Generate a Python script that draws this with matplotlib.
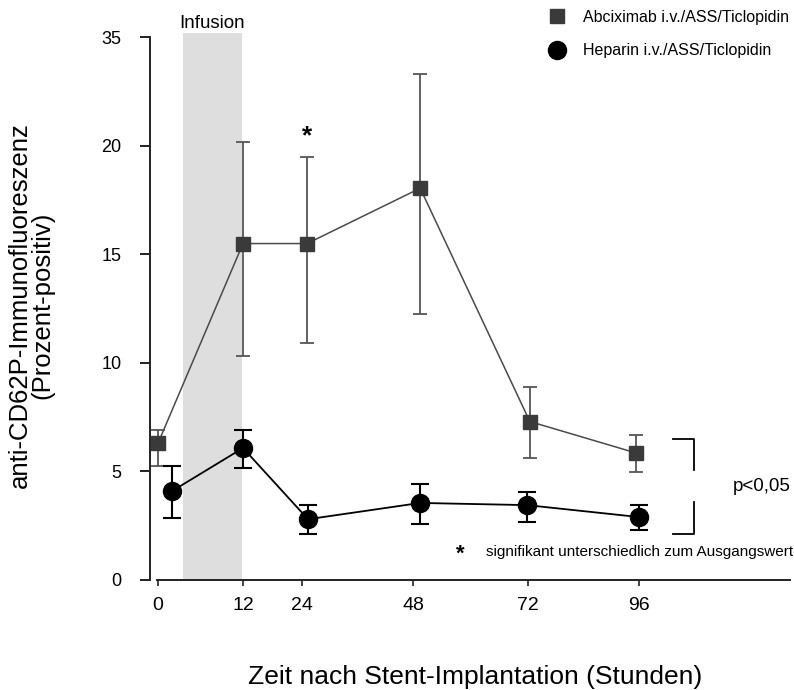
import numpy as np
import matplotlib
matplotlib.use("Agg")
import matplotlib.pyplot as plt
from matplotlib.lines import Line2D

plt.rcParams["font.family"] = ["Liberation Sans", "DejaVu Sans"]

# --- Daten ---
# x in Stunden, y in Prozent-positiv (Achse oberhalb 20 gestaucht: Marke "35" bei 25)
abc_x = [0, 12, 25.1, 49.5, 72.4, 95.4]
abc_y = [6.3, 15.5, 15.5, 18.05, 7.3, 5.85]
abc_lo = [1.05, 5.2, 4.6, 5.8, 1.7, 0.87]
abc_hi = [0.6, 4.7, 4.0, 5.25, 1.6, 0.85]

hep_x = [2.0, 12, 25.3, 49.5, 71.8, 96]
hep_y = [4.1, 6.08, 2.8, 3.55, 3.45, 2.9]
hep_lo = [1.25, 0.93, 0.7, 0.95, 0.78, 0.6]
hep_hi = [1.15, 0.82, 0.65, 0.85, 0.6, 0.55]

x_ticks = [0, 12, 24, 48, 72, 96]
y_ticks = [0, 5, 10, 15, 20, 25]
y_tick_labels = ["0", "5", "10", "15", "20", "35"]
infusion = (3.5, 11.9)

# nicht-lineare Zeitachse (stückweise linear, wie im Original)
knot_h = np.array([-12, 0, 12, 24, 48, 72, 96, 200])
knot_p = np.array([-85, 0, 85, 144, 255, 370, 481, 980])


def fwd(h):
    return np.interp(h, knot_h, knot_p)


def inv(p):
    return np.interp(p, knot_p, knot_h)


fig = plt.figure(figsize=(7.94, 6.90), dpi=100)
ax = fig.add_axes([150 / 794, 110 / 690, 640 / 794, 547 / 690])
ax.set_xscale("function", functions=(fwd, inv))
xmax = float(inv(632))
ax.set_xlim(float(inv(-8)), xmax)
ax.set_ylim(0, 25.2)

ax.axvspan(*infusion, color="#dedede", zorder=0, lw=0)
ax.text(sum(infusion) / 2, 25.65, "Infusion", ha="center", va="center", fontsize=13.5,
        clip_on=False)

grey = "#3a3a3a"
ax.errorbar(abc_x, abc_y, yerr=[abc_lo, abc_hi], fmt="s", color=grey, ms=10.5,
            ecolor="#555555", elinewidth=1.3, capsize=5, capthick=1.3, zorder=3)
ax.plot(abc_x, abc_y, color="#4a4a4a", lw=1.1, zorder=2)

ax.errorbar(hep_x, hep_y, yerr=[hep_lo, hep_hi], fmt="o", color="black", ms=13,
            ecolor="black", elinewidth=1.5, capsize=6.5, capthick=1.5, zorder=5)
ax.plot(hep_x, hep_y, color="black", lw=1.3, zorder=4)

# Signifikanz-Markierungen
ax.text(25.1, 20.45, "*", ha="center", va="center", fontsize=19, fontweight="bold")
bx = [103.1, 107.5, 107.5]
ax.plot(bx, [6.5, 6.5, 5.07], color="black", lw=1.3, clip_on=False)
ax.plot(bx, [2.1, 2.1, 3.6], color="black", lw=1.3, clip_on=False)
ax.text(115.6, 4.29, "p<0,05", ha="left", va="center", fontsize=13.5)
ax.text(57.8, 1.2, "*", ha="center", va="center", fontsize=16, fontweight="bold")
ax.text(63.2, 1.29, "signifikant unterschiedlich zum Ausgangswert", ha="left",
        va="center", fontsize=11)

# Achsen
for s in ["top", "right"]:
    ax.spines[s].set_visible(False)
ax.spines["left"].set_bounds(0, 25)
ax.spines["bottom"].set_bounds(-0.1, xmax)
for s in ["left", "bottom"]:
    ax.spines[s].set_linewidth(1.4)
    ax.spines[s].set_color("#222222")

ax.set_yticks(y_ticks)
ax.set_yticklabels(y_tick_labels)
ax.tick_params(axis="y", length=7.5, width=1.4, pad=13, labelsize=13, colors="#222222",
               labelcolor="black")
ax.set_xticks(x_ticks)
ax.set_xticklabels([str(t) for t in x_ticks])
ax.xaxis.set_minor_locator(matplotlib.ticker.NullLocator())
ax.tick_params(axis="x", length=4, width=1.2, pad=8, labelsize=14, colors="#222222",
               labelcolor="black")

fig.text(31 / 794, 1 - 305 / 690, "anti-CD62P-Immunofluoreszenz\n(Prozent-positiv)",
         rotation=90, ha="center", va="center", ma="center", fontsize=18.5, linespacing=0.95)
fig.text(475 / 794, 1 - 677 / 690, "Zeit nach Stent-Implantation (Stunden)",
         ha="center", va="center", fontsize=19)

# Legende
handles = [Line2D([], [], ls="none", marker="s", ms=10.5, color=grey),
           Line2D([], [], ls="none", marker="o", ms=13, color="black")]
labels = ["Abciximab i.v./ASS/Ticlopidin", "Heparin i.v./ASS/Ticlopidin"]
fig.legend(handles, labels, loc="upper left", bbox_to_anchor=(549 / 794, 1 - 10 / 690),
           frameon=False, fontsize=11.5, handlelength=1.0, handletextpad=1.15,
           labelspacing=1.15, borderpad=0, borderaxespad=0)

fig.savefig("out.png", dpi=100)
